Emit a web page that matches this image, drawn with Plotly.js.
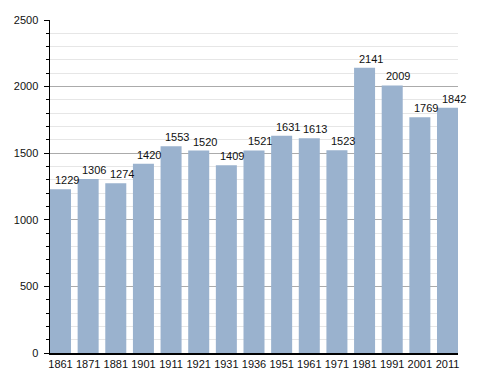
<!DOCTYPE html>
<html>
<head>
<meta charset="utf-8">
<script src="https://cdn.plot.ly/plotly-3.0.1.min.js"></script>
<style>html,body{margin:0;padding:0;background:#fff;}#chart{width:488px;height:373px;}</style>
</head>
<body>
<div id="chart"></div>
<script>
const years = ["1861","1871","1881","1901","1911","1921","1931","1936","1951","1961","1971","1981","1991","2001","2011"];
const population = [1229,1306,1274,1420,1553,1520,1409,1521,1631,1613,1523,2141,2009,1769,1842];
const yTickVals = [0,500,1000,1500,2000,2500];

const fontFam = '"Liberation Sans", Arial, Helvetica, sans-serif';

const trace = {
  type: 'bar',
  x: years,
  y: population,
  marker: {color: '#9ab2ce', line: {width: 0}},
  hoverinfo: 'x+y'
};

const annotations = years.map((yr, i) => ({
  x: i, y: population[i], xref: 'x', yref: 'y',
  text: String(population[i]), showarrow: false,
  xanchor: 'center', yanchor: 'bottom', xshift: 6, yshift: 1,
  font: {family: fontFam, size: 11, color: '#111'}
}));

const layout = {
  width: 488, height: 373,
  margin: {l: 50, r: 30, t: 20, b: 20, pad: 0},
  paper_bgcolor: '#fff', plot_bgcolor: '#fff',
  showlegend: false,
  bargap: 0.24,
  font: {family: fontFam, size: 11, color: '#111'},
  xaxis: {
    type: 'category',
    range: [-0.38, 14.38],
    showline: true, linecolor: '#000', linewidth: 1.5,
    ticks: '', showgrid: false, zeroline: false,
    tickfont: {family: fontFam, size: 11, color: '#111'},
    fixedrange: true
  },
  yaxis: {
    range: [0, 2500],
    tickvals: yTickVals,
    showline: true, linecolor: '#000', linewidth: 1.5,
    ticks: 'outside', ticklen: 5, tickcolor: '#000', tickwidth: 1,
    ticklabelstandoff: 3,
    showgrid: true, gridcolor: '#ababab', gridwidth: 1,
    zeroline: false,
    minor: {dtick: 100, showgrid: true, gridcolor: '#e6e6e6', gridwidth: 1, ticks: 'outside', ticklen: 3, tickcolor: '#000'},
    tickfont: {family: fontFam, size: 11, color: '#111'},
    fixedrange: true
  },
  annotations: annotations
};

Plotly.newPlot('chart', [trace], layout, {displayModeBar: false, staticPlot: true});
</script>
</body>
</html>
